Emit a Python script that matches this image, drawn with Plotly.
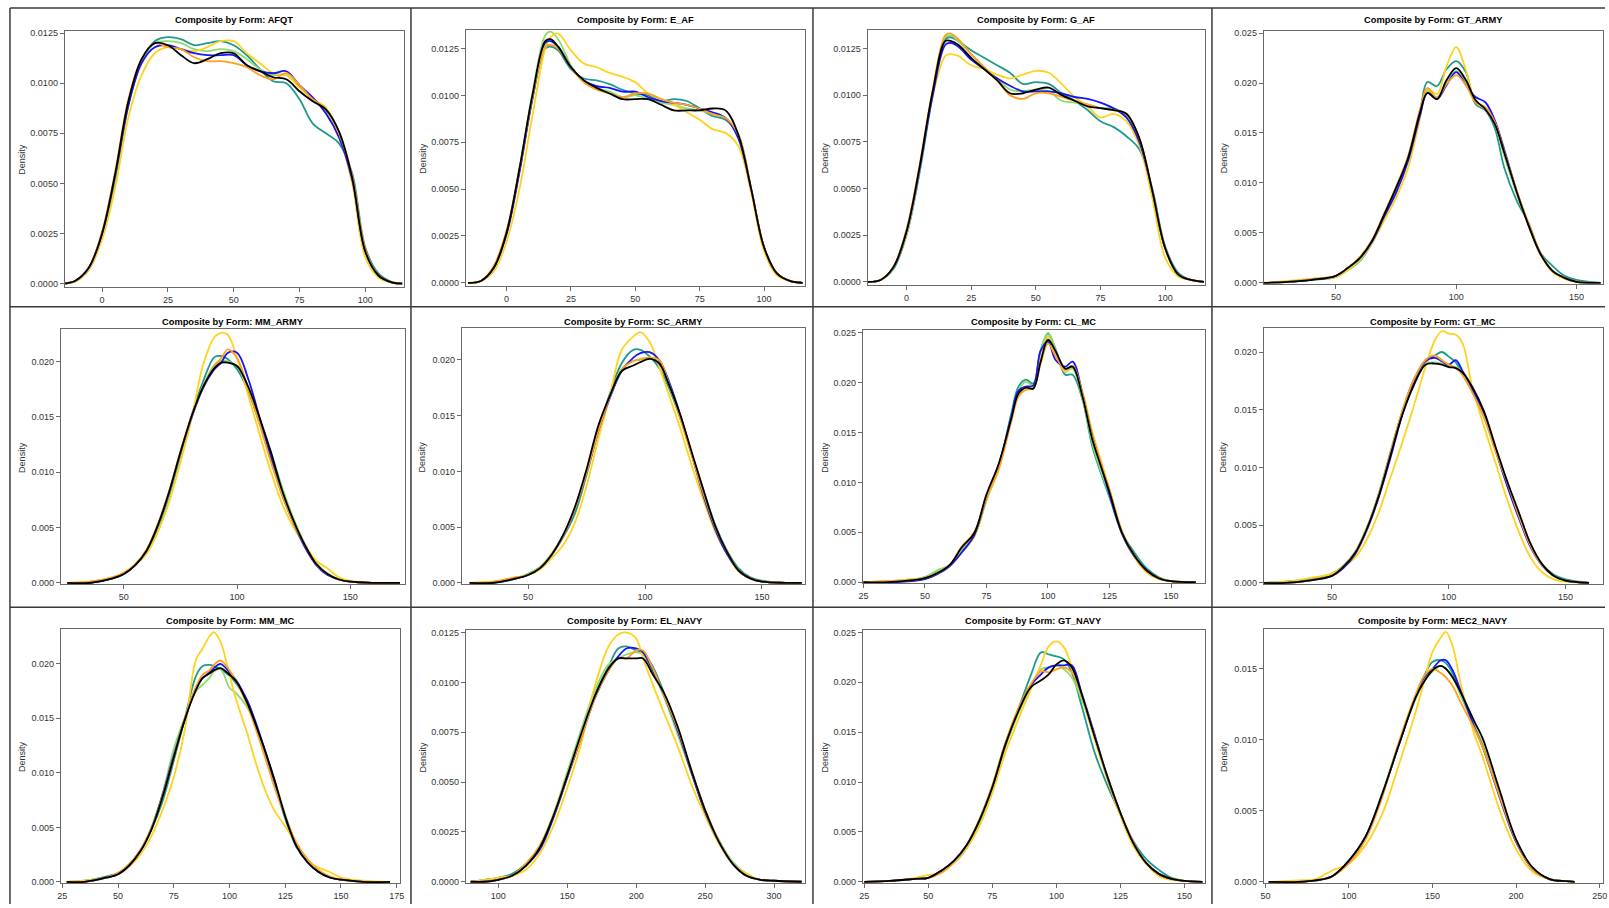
import plotly.graph_objects as go

W, H = 1609, 908

SERIES = ["teal", "green", "yellow", "blue", "orange", "black"]
COLORS = {"teal": "#1E9A8E", "green": "#8CDC6E", "yellow": "#FFD21E",
          "blue": "#1414FF", "orange": "#FFA01E", "black": "#000000"}

# ---------------- data ----------------
afqt_x = [-14, -10, -5, 0, 5, 10, 15, 20, 25, 30, 35, 40, 45, 50, 55, 60, 65, 70, 75, 80, 85, 90, 95, 100, 105, 110, 114]
afqt_y = {
    "black":  [0, 0.00015, 0.0008, 0.0025, 0.0055, 0.0091, 0.0112, 0.0120, 0.0119, 0.0114, 0.0110, 0.0112, 0.0115, 0.0115, 0.0109, 0.0106, 0.0103, 0.0102, 0.0096, 0.0091, 0.0087, 0.0076, 0.0053, 0.0016, 0.0004, 0.00006, 0],
    "blue":   [0, 0.00015, 0.0008, 0.0025, 0.0054, 0.0089, 0.0110, 0.0118, 0.0119, 0.0117, 0.0115, 0.0114, 0.0114, 0.0114, 0.0109, 0.0106, 0.0105, 0.0106, 0.0099, 0.0093, 0.0085, 0.0073, 0.0052, 0.0016, 0.0004, 0.00006, 0],
    "orange": [0, 0.00015, 0.0008, 0.0026, 0.0056, 0.0092, 0.0112, 0.0120, 0.0118, 0.0117, 0.0113, 0.0111, 0.0111, 0.0110, 0.0108, 0.0104, 0.0102, 0.0105, 0.0099, 0.0092, 0.0087, 0.0075, 0.0054, 0.0017, 0.0004, 0.00006, 0],
    "teal":   [0, 0.00012, 0.0007, 0.0023, 0.0052, 0.0089, 0.0111, 0.0121, 0.0123, 0.0122, 0.0119, 0.0120, 0.0121, 0.0119, 0.0114, 0.0107, 0.0101, 0.0100, 0.0092, 0.0080, 0.0075, 0.0070, 0.0055, 0.0018, 0.0005, 0.00008, 0],
    "green":  [0, 0.00013, 0.0008, 0.0024, 0.0053, 0.0090, 0.0111, 0.0120, 0.0121, 0.0120, 0.0117, 0.0116, 0.0117, 0.0116, 0.0112, 0.0107, 0.0104, 0.0104, 0.0098, 0.0092, 0.0086, 0.0074, 0.0053, 0.0016, 0.0004, 0.00006, 0],
    "yellow": [0, 0.00012, 0.0007, 0.0022, 0.0048, 0.0083, 0.0104, 0.0115, 0.0118, 0.0117, 0.0116, 0.0118, 0.0121, 0.0121, 0.0115, 0.0110, 0.0105, 0.0104, 0.0098, 0.0092, 0.0088, 0.0074, 0.0050, 0.0013, 0.0003, 0.00005, 0],
}

eaf_x = [-15, -10, -5, 0, 5, 10, 15, 17, 20, 25, 30, 35, 40, 45, 50, 55, 60, 65, 70, 75, 80, 85, 90, 95, 100, 105, 110, 115]
eaf_y = {
    "black":  [0, 0.0001, 0.0008, 0.0027, 0.0061, 0.0100, 0.0129, 0.0130, 0.0126, 0.0115, 0.0108, 0.0104, 0.0101, 0.0098, 0.0098, 0.0098, 0.0095, 0.0092, 0.0092, 0.0092, 0.0093, 0.0092, 0.0079, 0.0050, 0.0019, 0.0005, 0.0001, 0],
    "blue":   [0, 0.0001, 0.0008, 0.0026, 0.0059, 0.0098, 0.0128, 0.0129, 0.0126, 0.0115, 0.0108, 0.0105, 0.0104, 0.0102, 0.0102, 0.0099, 0.0097, 0.0096, 0.0095, 0.0093, 0.0091, 0.0088, 0.0077, 0.0050, 0.0019, 0.0005, 0.0001, 0],
    "orange": [0, 0.0001, 0.0009, 0.0028, 0.0061, 0.0099, 0.0126, 0.0127, 0.0125, 0.0115, 0.0107, 0.0103, 0.0101, 0.0099, 0.0101, 0.0101, 0.0098, 0.0096, 0.0095, 0.0093, 0.0090, 0.0088, 0.0079, 0.0050, 0.0019, 0.0005, 0.0001, 0],
    "teal":   [0, 0.0001, 0.0008, 0.0027, 0.0060, 0.0098, 0.0125, 0.0126, 0.0124, 0.0114, 0.0109, 0.0108, 0.0106, 0.0103, 0.0101, 0.0100, 0.0097, 0.0098, 0.0097, 0.0093, 0.0089, 0.0087, 0.0079, 0.0050, 0.0019, 0.0005, 0.0001, 0],
    "green":  [0, 0.0001, 0.0008, 0.0027, 0.0061, 0.0101, 0.0132, 0.0134, 0.0130, 0.0116, 0.0107, 0.0104, 0.0102, 0.0099, 0.0100, 0.0098, 0.0096, 0.0095, 0.0093, 0.0092, 0.0090, 0.0088, 0.0079, 0.0050, 0.0019, 0.0005, 0.0001, 0],
    "yellow": [0, 0.0001, 0.0006, 0.0022, 0.0050, 0.0089, 0.0125, 0.0131, 0.0133, 0.0124, 0.0117, 0.0115, 0.0112, 0.0110, 0.0107, 0.0101, 0.0098, 0.0095, 0.0091, 0.0087, 0.0082, 0.0080, 0.0073, 0.0048, 0.0017, 0.0004, 0.0001, 0],
}

gaf_x = [-15, -10, -5, 0, 5, 10, 15, 17, 20, 25, 30, 35, 40, 45, 50, 55, 60, 65, 70, 75, 80, 85, 90, 95, 100, 105, 110, 115]
gaf_y = {
    "black":  [0, 0.0001, 0.0008, 0.0027, 0.0061, 0.0101, 0.0129, 0.0129, 0.0127, 0.0120, 0.0114, 0.0108, 0.0101, 0.0101, 0.0103, 0.0104, 0.0100, 0.0097, 0.0094, 0.0093, 0.0092, 0.0090, 0.0077, 0.0049, 0.0018, 0.0004, 0.0001, 0],
    "blue":   [0, 0.0001, 0.0008, 0.0027, 0.0060, 0.0099, 0.0127, 0.0128, 0.0126, 0.0119, 0.0114, 0.0109, 0.0105, 0.0102, 0.0102, 0.0102, 0.0101, 0.0099, 0.0098, 0.0096, 0.0093, 0.0088, 0.0075, 0.0049, 0.0018, 0.0004, 0.0001, 0],
    "orange": [0, 0.0001, 0.0008, 0.0028, 0.0062, 0.0102, 0.0132, 0.0133, 0.0130, 0.0122, 0.0115, 0.0108, 0.0100, 0.0098, 0.0101, 0.0101, 0.0099, 0.0097, 0.0095, 0.0093, 0.0092, 0.0090, 0.0077, 0.0049, 0.0018, 0.0004, 0.0001, 0],
    "teal":   [0, 0.0001, 0.0007, 0.0025, 0.0058, 0.0099, 0.0130, 0.0131, 0.0129, 0.0124, 0.0120, 0.0116, 0.0112, 0.0106, 0.0107, 0.0106, 0.0101, 0.0097, 0.0092, 0.0086, 0.0083, 0.0078, 0.0071, 0.0050, 0.0019, 0.0005, 0.0001, 0],
    "green":  [0, 0.0001, 0.0008, 0.0026, 0.0060, 0.0101, 0.0131, 0.0132, 0.0129, 0.0122, 0.0115, 0.0109, 0.0103, 0.0102, 0.0103, 0.0102, 0.0097, 0.0096, 0.0095, 0.0093, 0.0093, 0.0089, 0.0076, 0.0049, 0.0018, 0.0004, 0.0001, 0],
    "yellow": [0, 0.0001, 0.0008, 0.0026, 0.0060, 0.0099, 0.0121, 0.0122, 0.0121, 0.0116, 0.0114, 0.0111, 0.0109, 0.0111, 0.0113, 0.0112, 0.0106, 0.0099, 0.0094, 0.0088, 0.0090, 0.0086, 0.0073, 0.0045, 0.0013, 0.0003, 0.0001, 0],
}

gtarmy_x = [20, 30, 40, 50, 55, 60, 65, 70, 75, 80, 85, 88, 92, 96, 100, 104, 108, 112, 116, 120, 125, 130, 135, 140, 145, 150, 160]
gtarmy_y = {
    "black":  [0, 0.0001, 0.0003, 0.0007, 0.0015, 0.0025, 0.0042, 0.0068, 0.0095, 0.0125, 0.0171, 0.0190, 0.0184, 0.0203, 0.0215, 0.0203, 0.0183, 0.0174, 0.0159, 0.0130, 0.0092, 0.0058, 0.0029, 0.0012, 0.0005, 0.0001, 0],
    "blue":   [0, 0.0001, 0.0003, 0.0007, 0.0015, 0.0025, 0.0041, 0.0066, 0.0090, 0.0122, 0.0168, 0.0190, 0.0184, 0.0198, 0.0211, 0.0198, 0.0186, 0.0181, 0.0163, 0.0133, 0.0093, 0.0058, 0.0029, 0.0012, 0.0005, 0.0001, 0],
    "orange": [0, 0.0001, 0.0004, 0.0007, 0.0015, 0.0026, 0.0043, 0.0069, 0.0096, 0.0127, 0.0174, 0.0195, 0.0185, 0.0199, 0.0208, 0.0198, 0.0181, 0.0176, 0.0161, 0.0131, 0.0093, 0.0060, 0.0030, 0.0012, 0.0005, 0.0001, 0],
    "teal":   [0, 0.0001, 0.0003, 0.0006, 0.0013, 0.0022, 0.0040, 0.0067, 0.0094, 0.0125, 0.0172, 0.0201, 0.0197, 0.0214, 0.0222, 0.0211, 0.0179, 0.0173, 0.0155, 0.0115, 0.0083, 0.0060, 0.0030, 0.0017, 0.0007, 0.0003, 0],
    "green":  [0, 0.0001, 0.0003, 0.0006, 0.0013, 0.0022, 0.0040, 0.0066, 0.0093, 0.0124, 0.0170, 0.0192, 0.0186, 0.0202, 0.0212, 0.0201, 0.0181, 0.0174, 0.0159, 0.0127, 0.0090, 0.0059, 0.0029, 0.0012, 0.0005, 0.0001, 0],
    "yellow": [0, 0.0002, 0.0004, 0.0006, 0.0013, 0.0024, 0.0040, 0.0062, 0.0085, 0.0115, 0.0165, 0.0194, 0.0189, 0.0217, 0.0236, 0.0213, 0.0181, 0.0174, 0.0159, 0.0130, 0.0092, 0.0057, 0.0028, 0.0011, 0.0004, 0.0001, 0],
}

mmarmy_x = [25, 35, 45, 50, 55, 60, 65, 70, 75, 80, 85, 90, 93, 96, 100, 105, 110, 115, 120, 125, 130, 135, 140, 145, 150, 160, 172]
mmarmy_y = {
    "black":  [0, 0, 0.0004, 0.0008, 0.0016, 0.0029, 0.0052, 0.0082, 0.0118, 0.0151, 0.0177, 0.0194, 0.0199, 0.0199, 0.0196, 0.0177, 0.0149, 0.0118, 0.0083, 0.0056, 0.0034, 0.0017, 0.0008, 0.0003, 0.0001, 0, 0],
    "blue":   [0, 0, 0.0004, 0.0008, 0.0016, 0.0029, 0.0052, 0.0082, 0.0118, 0.0150, 0.0176, 0.0193, 0.0199, 0.0208, 0.0208, 0.0184, 0.0149, 0.0113, 0.0079, 0.0054, 0.0032, 0.0016, 0.0007, 0.0003, 0.0001, 0, 0],
    "orange": [0, 0.0001, 0.0005, 0.0009, 0.0017, 0.0030, 0.0053, 0.0083, 0.0119, 0.0151, 0.0177, 0.0196, 0.0203, 0.0211, 0.0203, 0.0175, 0.0143, 0.0109, 0.0079, 0.0054, 0.0034, 0.0017, 0.0008, 0.0003, 0.0001, 0, 0],
    "teal":   [0, 0, 0.0004, 0.0008, 0.0016, 0.0028, 0.0049, 0.0079, 0.0115, 0.0152, 0.0182, 0.0204, 0.0205, 0.0202, 0.0193, 0.0173, 0.0144, 0.0115, 0.0082, 0.0056, 0.0034, 0.0017, 0.0008, 0.0003, 0.0001, 0, 0],
    "green":  [0, 0, 0.0004, 0.0008, 0.0016, 0.0029, 0.0051, 0.0081, 0.0117, 0.0150, 0.0178, 0.0197, 0.0201, 0.0200, 0.0196, 0.0175, 0.0148, 0.0118, 0.0086, 0.0058, 0.0035, 0.0018, 0.0008, 0.0003, 0.0001, 0, 0],
    "yellow": [0, 0.0001, 0.0005, 0.0009, 0.0016, 0.0026, 0.0046, 0.0073, 0.0109, 0.0149, 0.0197, 0.0222, 0.0226, 0.0224, 0.0203, 0.0169, 0.0134, 0.0100, 0.0071, 0.0050, 0.0034, 0.0020, 0.0013, 0.0005, 0.0002, 0, 0],
}

scarmy_x = [25, 35, 45, 50, 55, 60, 65, 70, 75, 80, 85, 90, 95, 98, 102, 106, 110, 115, 120, 125, 130, 135, 140, 145, 150, 160, 167]
scarmy_y = {
    "black":  [0, 0, 0.0004, 0.0007, 0.0013, 0.0025, 0.0043, 0.0068, 0.0102, 0.0141, 0.0168, 0.0190, 0.0195, 0.0198, 0.0201, 0.0197, 0.0179, 0.0151, 0.0117, 0.0083, 0.0051, 0.0028, 0.0011, 0.0004, 0.0001, 0, 0],
    "blue":   [0, 0, 0.0004, 0.0007, 0.0013, 0.0025, 0.0042, 0.0066, 0.0099, 0.0136, 0.0166, 0.0190, 0.0202, 0.0206, 0.0207, 0.0200, 0.0182, 0.0151, 0.0115, 0.0078, 0.0048, 0.0026, 0.0011, 0.0004, 0.0001, 0, 0],
    "orange": [0, 0.0001, 0.0005, 0.0007, 0.0013, 0.0025, 0.0042, 0.0066, 0.0099, 0.0136, 0.0167, 0.0191, 0.0199, 0.0200, 0.0202, 0.0200, 0.0180, 0.0148, 0.0114, 0.0080, 0.0050, 0.0028, 0.0011, 0.0004, 0.0001, 0, 0],
    "teal":   [0, 0, 0.0004, 0.0008, 0.0014, 0.0025, 0.0041, 0.0062, 0.0097, 0.0136, 0.0170, 0.0197, 0.0209, 0.0209, 0.0203, 0.0193, 0.0176, 0.0148, 0.0115, 0.0083, 0.0052, 0.0029, 0.0013, 0.0005, 0.0002, 0, 0],
    "green":  [0, 0, 0.0004, 0.0008, 0.0014, 0.0026, 0.0043, 0.0067, 0.0100, 0.0137, 0.0167, 0.0192, 0.0199, 0.0201, 0.0202, 0.0198, 0.0179, 0.0150, 0.0115, 0.0081, 0.0050, 0.0028, 0.0011, 0.0004, 0.0001, 0, 0],
    "yellow": [0, 0.0001, 0.0005, 0.0007, 0.0012, 0.0022, 0.0034, 0.0054, 0.0087, 0.0129, 0.0168, 0.0209, 0.0221, 0.0225, 0.0216, 0.0194, 0.0170, 0.0139, 0.0105, 0.0074, 0.0046, 0.0026, 0.0010, 0.0004, 0.0001, 0, 0],
}

clmc_x = [25, 35, 45, 50, 55, 60, 65, 70, 75, 80, 85, 88, 91, 94, 97, 100, 103, 107, 110, 114, 118, 121, 125, 130, 135, 140, 145, 150, 160]
clmc_y = {
    "black":  [0, 0, 0.0002, 0.0004, 0.0009, 0.0017, 0.0035, 0.0049, 0.0088, 0.0119, 0.0163, 0.0189, 0.0195, 0.0194, 0.0221, 0.0243, 0.0232, 0.0214, 0.0216, 0.0186, 0.0143, 0.0120, 0.0090, 0.0050, 0.0027, 0.0012, 0.0004, 0.0001, 0],
    "blue":   [0, 0, 0.0001, 0.0003, 0.0008, 0.0016, 0.0030, 0.0047, 0.0085, 0.0117, 0.0165, 0.0192, 0.0196, 0.0197, 0.0232, 0.0241, 0.0223, 0.0216, 0.0221, 0.0189, 0.0146, 0.0122, 0.0088, 0.0049, 0.0026, 0.0012, 0.0004, 0.0001, 0],
    "orange": [0, 0.0001, 0.0002, 0.0004, 0.0009, 0.0017, 0.0036, 0.0050, 0.0085, 0.0114, 0.0160, 0.0186, 0.0193, 0.0194, 0.0219, 0.0239, 0.0227, 0.0213, 0.0217, 0.0189, 0.0145, 0.0123, 0.0093, 0.0051, 0.0026, 0.0011, 0.0004, 0.0001, 0],
    "teal":   [0, 0, 0.0002, 0.0005, 0.0010, 0.0017, 0.0032, 0.0046, 0.0083, 0.0115, 0.0168, 0.0196, 0.0203, 0.0199, 0.0232, 0.0249, 0.0234, 0.0208, 0.0208, 0.0183, 0.0136, 0.0113, 0.0085, 0.0050, 0.0030, 0.0014, 0.0005, 0.0001, 0],
    "green":  [0, 0.0001, 0.0003, 0.0005, 0.0012, 0.0017, 0.0033, 0.0046, 0.0082, 0.0114, 0.0165, 0.0192, 0.0201, 0.0197, 0.0232, 0.0250, 0.0234, 0.0211, 0.0214, 0.0184, 0.0139, 0.0115, 0.0087, 0.0049, 0.0027, 0.0012, 0.0004, 0.0001, 0],
    "yellow": [0, 0.0001, 0.0003, 0.0004, 0.0009, 0.0016, 0.0030, 0.0045, 0.0083, 0.0113, 0.0162, 0.0188, 0.0196, 0.0195, 0.0223, 0.0246, 0.0229, 0.0211, 0.0216, 0.0191, 0.0151, 0.0126, 0.0093, 0.0052, 0.0026, 0.0010, 0.0003, 0.0001, 0],
}

gtmc_x = [20, 30, 40, 50, 55, 60, 65, 70, 75, 80, 85, 90, 94, 97, 100, 103, 106, 110, 115, 120, 125, 130, 135, 140, 145, 150, 160]
gtmc_y = {
    "black":  [0, 0, 0.0002, 0.0006, 0.0014, 0.0026, 0.0047, 0.0075, 0.0110, 0.0145, 0.0171, 0.0189, 0.0190, 0.0189, 0.0187, 0.0186, 0.0182, 0.0170, 0.0149, 0.0118, 0.0088, 0.0061, 0.0034, 0.0016, 0.0006, 0.0002, 0],
    "blue":   [0, 0, 0.0002, 0.0006, 0.0013, 0.0025, 0.0046, 0.0074, 0.0108, 0.0145, 0.0174, 0.0192, 0.0195, 0.0192, 0.0189, 0.0193, 0.0183, 0.0168, 0.0147, 0.0115, 0.0084, 0.0056, 0.0031, 0.0015, 0.0006, 0.0002, 0],
    "orange": [0, 0, 0.0002, 0.0006, 0.0014, 0.0026, 0.0047, 0.0076, 0.0112, 0.0148, 0.0176, 0.0193, 0.0197, 0.0193, 0.0189, 0.0186, 0.0180, 0.0165, 0.0144, 0.0114, 0.0087, 0.0058, 0.0032, 0.0015, 0.0006, 0.0002, 0],
    "teal":   [0, 0.0001, 0.0003, 0.0008, 0.0015, 0.0027, 0.0048, 0.0077, 0.0113, 0.0148, 0.0176, 0.0193, 0.0197, 0.0200, 0.0196, 0.0191, 0.0180, 0.0166, 0.0144, 0.0115, 0.0085, 0.0058, 0.0033, 0.0016, 0.0007, 0.0003, 0],
    "green":  [0, 0, 0.0002, 0.0007, 0.0015, 0.0027, 0.0048, 0.0076, 0.0111, 0.0147, 0.0175, 0.0190, 0.0191, 0.0190, 0.0188, 0.0187, 0.0183, 0.0170, 0.0147, 0.0117, 0.0087, 0.0058, 0.0032, 0.0015, 0.0006, 0.0002, 0],
    "yellow": [0, 0.0001, 0.0004, 0.0008, 0.0014, 0.0022, 0.0038, 0.0061, 0.0091, 0.0121, 0.0153, 0.0187, 0.0210, 0.0218, 0.0216, 0.0215, 0.0207, 0.0170, 0.0136, 0.0104, 0.0072, 0.0044, 0.0022, 0.0009, 0.0003, 0.0001, 0],
}

mmmc_x = [27, 35, 45, 50, 55, 60, 65, 70, 75, 80, 85, 88, 91, 93, 96, 100, 103, 108, 112, 116, 120, 125, 130, 135, 140, 145, 150, 160, 172]
mmmc_y = {
    "black":  [0, 0, 0.0004, 0.0007, 0.0015, 0.0028, 0.0048, 0.0078, 0.0114, 0.0149, 0.0176, 0.0187, 0.0191, 0.0194, 0.0196, 0.0190, 0.0184, 0.0164, 0.0143, 0.0120, 0.0095, 0.0060, 0.0033, 0.0018, 0.0009, 0.0004, 0.0002, 0, 0],
    "blue":   [0, 0, 0.0004, 0.0007, 0.0015, 0.0028, 0.0049, 0.0080, 0.0116, 0.0149, 0.0178, 0.0187, 0.0192, 0.0196, 0.0200, 0.0192, 0.0185, 0.0166, 0.0145, 0.0120, 0.0093, 0.0060, 0.0033, 0.0018, 0.0009, 0.0004, 0.0002, 0, 0],
    "orange": [0, 0, 0.0004, 0.0008, 0.0016, 0.0029, 0.0049, 0.0079, 0.0114, 0.0150, 0.0179, 0.0190, 0.0194, 0.0199, 0.0203, 0.0194, 0.0184, 0.0162, 0.0139, 0.0114, 0.0088, 0.0060, 0.0036, 0.0021, 0.0011, 0.0005, 0.0002, 0, 0],
    "teal":   [0, 0.0001, 0.0005, 0.0008, 0.0016, 0.0029, 0.0048, 0.0074, 0.0111, 0.0150, 0.0189, 0.0198, 0.0199, 0.0198, 0.0195, 0.0189, 0.0182, 0.0166, 0.0143, 0.0118, 0.0092, 0.0058, 0.0032, 0.0018, 0.0009, 0.0004, 0.0002, 0, 0],
    "green":  [0, 0, 0.0004, 0.0008, 0.0016, 0.0029, 0.0050, 0.0081, 0.0122, 0.0151, 0.0175, 0.0181, 0.0187, 0.0193, 0.0195, 0.0178, 0.0173, 0.0160, 0.0142, 0.0120, 0.0095, 0.0062, 0.0034, 0.0018, 0.0009, 0.0004, 0.0002, 0, 0],
    "yellow": [0, 0.0001, 0.0004, 0.0007, 0.0014, 0.0025, 0.0042, 0.0066, 0.0096, 0.0140, 0.0204, 0.0214, 0.0225, 0.0229, 0.0220, 0.0190, 0.0167, 0.0136, 0.0108, 0.0084, 0.0066, 0.0051, 0.0034, 0.0019, 0.0013, 0.0009, 0.0004, 0.0001, 0],
}

elnavy_x = [80, 90, 100, 110, 120, 130, 140, 150, 160, 170, 180, 187, 193, 200, 205, 212, 220, 230, 240, 250, 260, 270, 280, 290, 300, 320]
elnavy_y = {
    "black":  [0, 0, 0.0001, 0.0003, 0.0008, 0.0017, 0.0033, 0.0053, 0.0074, 0.0093, 0.0107, 0.0112, 0.0112, 0.0112, 0.0112, 0.0104, 0.0095, 0.0078, 0.0056, 0.0036, 0.0020, 0.0009, 0.0003, 0.0001, 0.00005, 0],
    "blue":   [0, 0, 0.0001, 0.0003, 0.0008, 0.0016, 0.0032, 0.0052, 0.0072, 0.0092, 0.0106, 0.0113, 0.0117, 0.0117, 0.0115, 0.0106, 0.0094, 0.0076, 0.0055, 0.0035, 0.0020, 0.0009, 0.0003, 0.0001, 0.00005, 0],
    "orange": [0, 0, 0.0001, 0.0003, 0.0009, 0.0018, 0.0033, 0.0053, 0.0072, 0.0092, 0.0106, 0.0112, 0.0112, 0.0116, 0.0116, 0.0107, 0.0094, 0.0077, 0.0056, 0.0036, 0.0020, 0.0009, 0.0003, 0.0001, 0.00005, 0],
    "teal":   [0, 0.0001, 0.0002, 0.0004, 0.0009, 0.0017, 0.0033, 0.0053, 0.0073, 0.0094, 0.0108, 0.0117, 0.0118, 0.0116, 0.0115, 0.0108, 0.0095, 0.0075, 0.0055, 0.0035, 0.0020, 0.0009, 0.0003, 0.0001, 0.00005, 0],
    "green":  [0, 0, 0.0001, 0.0003, 0.0009, 0.0018, 0.0034, 0.0055, 0.0076, 0.0096, 0.0109, 0.0112, 0.0114, 0.0115, 0.0114, 0.0105, 0.0093, 0.0074, 0.0055, 0.0036, 0.0021, 0.0010, 0.0004, 0.0001, 0.00005, 0],
    "yellow": [0, 0.0001, 0.0002, 0.0003, 0.0006, 0.0014, 0.0028, 0.0047, 0.0069, 0.0098, 0.0118, 0.0124, 0.0125, 0.0122, 0.0112, 0.0099, 0.0085, 0.0068, 0.0049, 0.0033, 0.0019, 0.0009, 0.0004, 0.0001, 0.00005, 0],
}

gtnavy_x = [25, 35, 45, 50, 55, 60, 65, 70, 75, 80, 85, 90, 94, 97, 100, 103, 106, 110, 115, 120, 125, 130, 135, 140, 145, 150, 157]
gtnavy_y = {
    "black":  [0, 0.0001, 0.0003, 0.0004, 0.0011, 0.0021, 0.0037, 0.0062, 0.0095, 0.0137, 0.0170, 0.0195, 0.0202, 0.0208, 0.0218, 0.0222, 0.0215, 0.0187, 0.0145, 0.0105, 0.0069, 0.0039, 0.0019, 0.0008, 0.0003, 0.0001, 0],
    "blue":   [0, 0.0001, 0.0003, 0.0004, 0.0011, 0.0021, 0.0037, 0.0062, 0.0095, 0.0137, 0.0172, 0.0197, 0.0208, 0.0215, 0.0217, 0.0217, 0.0217, 0.0188, 0.0147, 0.0104, 0.0069, 0.0039, 0.0019, 0.0008, 0.0003, 0.0001, 0],
    "orange": [0, 0.0001, 0.0003, 0.0004, 0.0009, 0.0020, 0.0037, 0.0063, 0.0097, 0.0139, 0.0173, 0.0198, 0.0211, 0.0210, 0.0213, 0.0215, 0.0210, 0.0186, 0.0145, 0.0104, 0.0069, 0.0040, 0.0019, 0.0008, 0.0003, 0.0001, 0],
    "teal":   [0, 0.0001, 0.0003, 0.0004, 0.0011, 0.0019, 0.0034, 0.0060, 0.0093, 0.0136, 0.0172, 0.0207, 0.0230, 0.0228, 0.0226, 0.0223, 0.0210, 0.0175, 0.0129, 0.0096, 0.0068, 0.0041, 0.0023, 0.0012, 0.0004, 0.0001, 0],
    "green":  [0, 0.0001, 0.0003, 0.0004, 0.0011, 0.0020, 0.0035, 0.0059, 0.0092, 0.0134, 0.0168, 0.0195, 0.0213, 0.0215, 0.0217, 0.0213, 0.0205, 0.0182, 0.0144, 0.0103, 0.0068, 0.0039, 0.0019, 0.0008, 0.0003, 0.0001, 0],
    "yellow": [0, 0.0001, 0.0004, 0.0007, 0.0009, 0.0019, 0.0034, 0.0056, 0.0089, 0.0129, 0.0162, 0.0193, 0.0218, 0.0236, 0.0241, 0.0235, 0.0215, 0.0186, 0.0142, 0.0102, 0.0066, 0.0036, 0.0018, 0.0006, 0.0002, 0.0001, 0],
}

mec2_x = [52, 70, 80, 90, 100, 110, 120, 130, 140, 145, 150, 155, 158, 162, 167, 175, 180, 190, 200, 210, 220, 230, 235]
mec2_y = {
    "black":  [0, 0, 0.0001, 0.0004, 0.0015, 0.0032, 0.0062, 0.0097, 0.0130, 0.0141, 0.0149, 0.0152, 0.0150, 0.0144, 0.0133, 0.0113, 0.0101, 0.0065, 0.0030, 0.0010, 0.0002, 0.00005, 0],
    "blue":   [0, 0, 0.0001, 0.0004, 0.0015, 0.0032, 0.0062, 0.0097, 0.0131, 0.0144, 0.0150, 0.0156, 0.0156, 0.0149, 0.0134, 0.0109, 0.0095, 0.0060, 0.0028, 0.0009, 0.0002, 0.00005, 0],
    "orange": [0, 0, 0.0001, 0.0004, 0.0013, 0.0030, 0.0060, 0.0099, 0.0132, 0.0145, 0.0150, 0.0147, 0.0144, 0.0138, 0.0126, 0.0108, 0.0095, 0.0061, 0.0029, 0.0009, 0.0002, 0.00005, 0],
    "teal":   [0, 0, 0.0001, 0.0004, 0.0015, 0.0032, 0.0062, 0.0097, 0.0131, 0.0145, 0.0155, 0.0156, 0.0154, 0.0147, 0.0131, 0.0110, 0.0096, 0.0062, 0.0029, 0.0009, 0.0002, 0.00005, 0],
    "green":  [0, 0, 0.0001, 0.0004, 0.0015, 0.0032, 0.0063, 0.0098, 0.0129, 0.0141, 0.0148, 0.0152, 0.0150, 0.0144, 0.0131, 0.0110, 0.0097, 0.0062, 0.0029, 0.0009, 0.0002, 0.00005, 0],
    "yellow": [0, 0.0001, 0.0002, 0.0008, 0.0013, 0.0026, 0.0048, 0.0083, 0.0120, 0.0141, 0.0162, 0.0172, 0.0176, 0.0166, 0.0139, 0.0104, 0.0088, 0.0051, 0.0023, 0.0007, 0.0002, 0.00005, 0],
}

titles = ["AFQT", "E_AF", "G_AF", "GT_ARMY", "MM_ARMY", "SC_ARMY",
          "CL_MC", "GT_MC", "MM_MC", "EL_NAVY", "GT_NAVY", "MEC2_NAVY"]

ticks_0_100 = [0, 25, 50, 75, 100]
ticks_50_150 = [50, 100, 150]
ticks_25_150 = [25, 50, 75, 100, 125, 150]
ticks_25_175 = [25, 50, 75, 100, 125, 150, 175]
ticks_100_300 = [100, 150, 200, 250, 300]
ticks_50_250 = [50, 100, 150, 200, 250]
yt_0125 = [0, 0.0025, 0.005, 0.0075, 0.01, 0.0125]
yt_025 = [0, 0.005, 0.01, 0.015, 0.02, 0.025]
yt_020 = [0, 0.005, 0.01, 0.015, 0.02]
yt_015 = [0, 0.005, 0.01, 0.015]

# ---------------- layout description ----------------
# (data x, data y, frame box px [left,right,top,bottom], x range, y range, x ticks, y ticks, y format)
panels = [
    (afqt_x, afqt_y, (61, 402, 28, 286), (-14.2, 114.7), (-0.000165, 0.01262), ticks_0_100, yt_0125, ".4f"),
    (eaf_x, eaf_y, (464, 805, 27, 285), (-15.9, 115.9), (-0.00016, 0.0135), ticks_0_100, yt_0125, ".4f"),
    (gaf_x, gaf_y, (868, 1207, 27, 284), (-15.0, 115.4), (-0.00016, 0.0135), ticks_0_100, yt_0125, ".4f"),
    (gtarmy_x, gtarmy_y, (1266, 1607, 28, 283), (20.0, 161.0), (-0.0001, 0.02523), ticks_50_150, yt_025, ".3f"),
    (mmarmy_x, mmarmy_y, (57, 403, 329, 586), (22.1, 174.2), (-0.00015, 0.0229), ticks_50_150, yt_020, ".3f"),
    (scarmy_x, scarmy_y, (460, 805, 328, 586), (21.6, 168.4), (-0.00015, 0.02282), ticks_50_150, yt_020, ".3f"),
    (clmc_x, clmc_y, (863, 1207, 330, 585), (24.7, 163.8), (-0.00013, 0.02523), ticks_25_150, yt_025, ".3f"),
    (gtmc_x, gtmc_y, (1266, 1607, 328, 586), (20.8, 166.0), (-0.00014, 0.02204), ticks_50_150, yt_020, ".3f"),
    (mmmc_x, mmmc_y, (57, 398, 631, 887), (24.3, 176.5), (-0.00012, 0.02318), ticks_25_175, yt_020, ".3f"),
    (elnavy_x, elnavy_y, (464, 805, 632, 887), (76.4, 322.4), (-0.00007, 0.01262), ticks_100_300, yt_0125, ".4f"),
    (gtnavy_x, gtnavy_y, (863, 1207, 632, 887), (24.4, 158.0), (-0.00013, 0.02523), ticks_25_150, yt_025, ".3f"),
    (mec2_x, mec2_y, (1266, 1607, 631, 887), (49.0, 252.0), (-0.00009, 0.01779), ticks_50_250, yt_015, ".3f"),
]
col_sep = [6, 409, 813, 1214]
row_sep = [5, 306, 609]
title_y = [17, 321, 623]

FONT = "Liberation Sans, Arial, sans-serif"
fig = go.Figure()
annotations = []
shapes = []

for i, (px_, py_, box, xr, yr, xt, yt, yf) in enumerate(panels):
    k = "" if i == 0 else str(i + 1)
    left, right, top, bottom = box
    for s in SERIES:
        fig.add_trace(go.Scatter(
            x=px_, y=py_[s], mode="lines", xaxis="x" + k, yaxis="y" + k,
            line=dict(color=COLORS[s], width=1.8, shape="spline", smoothing=1.0),
            showlegend=False, hoverinfo="skip"))
    axcommon = dict(showline=True, linecolor="#6a6a6a", linewidth=1, mirror=True,
                    showgrid=False, zeroline=False, ticks="outside", ticklen=4,
                    tickcolor="#6a6a6a", tickfont=dict(family=FONT, size=9, color="#333333"))
    fig.layout["xaxis" + k] = dict(domain=[left / W, right / W], anchor="y" + k,
                                   range=list(xr), tickmode="array", tickvals=xt, **axcommon)
    fig.layout["yaxis" + k] = dict(domain=[1 - bottom / H, 1 - top / H], anchor="x" + k,
                                   range=list(yr), tickmode="array", tickvals=yt,
                                   tickformat=yf, **axcommon)
    row, col = divmod(i, 4)
    annotations.append(dict(text="<b>Composite by Form: " + titles[i] + "</b>",
                            x=(left + right) / 2 / W, y=1 - title_y[row] / H,
                            xref="paper", yref="paper", showarrow=False,
                            xanchor="center", yanchor="middle",
                            font=dict(family=FONT, size=9.3, color="#000000")))
    annotations.append(dict(text="Density", textangle=-90,
                            x=(col_sep[col] + 12) / W, y=1 - (top + bottom) / 2 / H,
                            xref="paper", yref="paper", showarrow=False,
                            xanchor="center", yanchor="middle",
                            font=dict(family=FONT, size=9, color="#333333")))

for cx in col_sep:
    shapes.append(dict(type="line", xref="paper", yref="paper",
                       x0=cx / W, x1=cx / W, y0=1 - 5 / H, y1=0,
                       line=dict(color="#3a3a3a", width=1.5)))
for ry in row_sep:
    shapes.append(dict(type="line", xref="paper", yref="paper",
                       x0=6 / W, x1=1, y0=1 - ry / H, y1=1 - ry / H,
                       line=dict(color="#3a3a3a", width=1.5)))

fig.update_layout(width=W, height=H, margin=dict(l=0, r=0, t=0, b=0),
                  paper_bgcolor="white", plot_bgcolor="white",
                  annotations=annotations, shapes=shapes, showlegend=False)

fig.write_html("out.html", config={"displayModeBar": False},
               post_script="document.body.style.margin='0px';"
                           "document.body.style.overflow='hidden';")
